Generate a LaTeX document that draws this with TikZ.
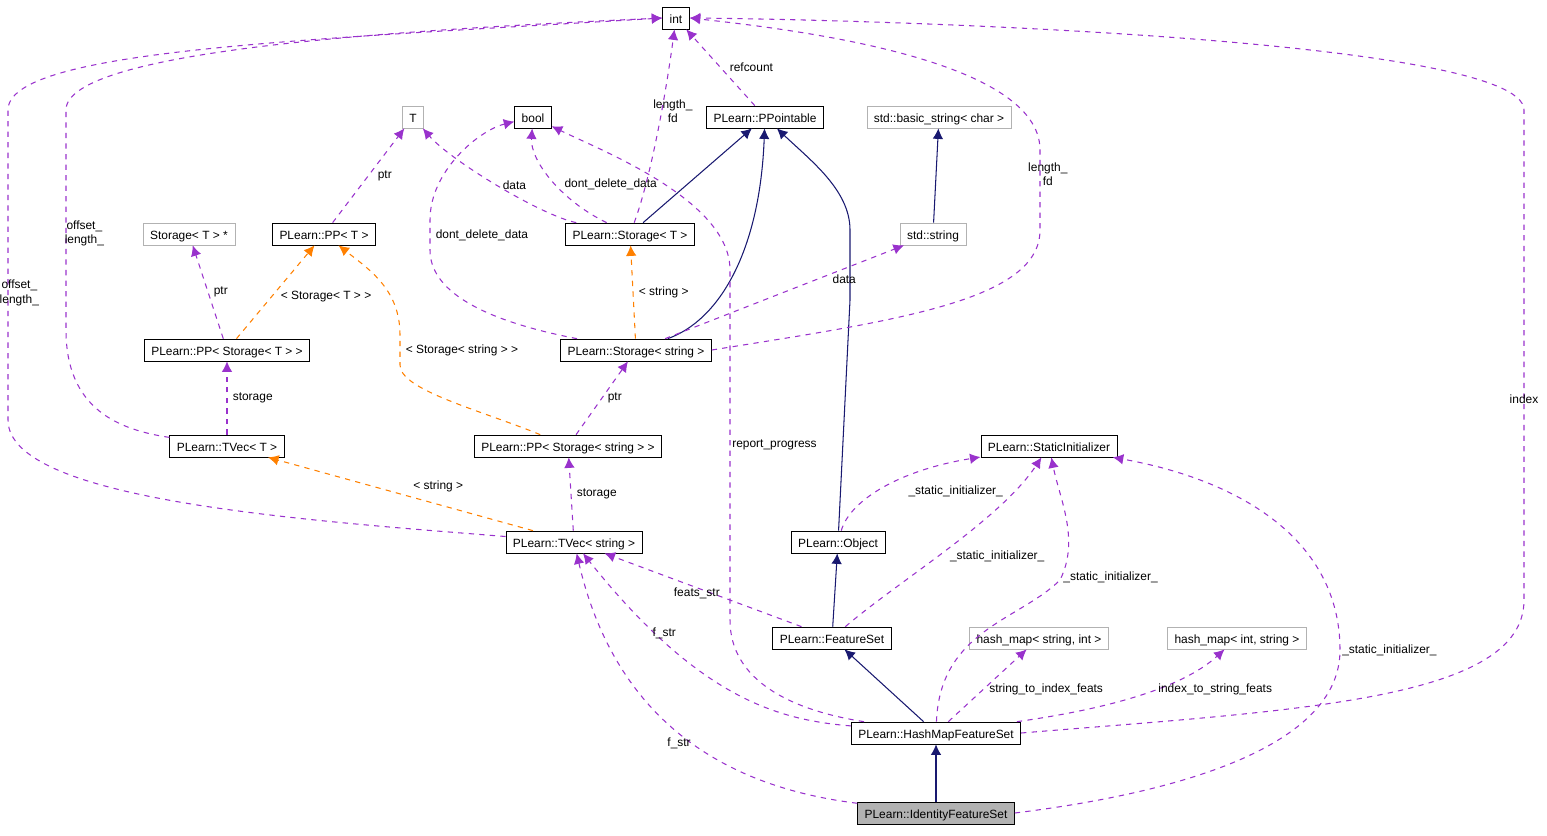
\documentclass[tikz,border=0pt]{standalone}
\usepackage{fontspec}
\setmainfont{Liberation Sans}
\usetikzlibrary{arrows.meta,positioning}

\tikzset{
  cls/.style={draw,fill=white,inner sep=0pt,minimum height=0.44cm,text height=1.6ex,text depth=.4ex,inner xsep=4pt,font=\fontsize{6.8}{8}\selectfont},
  ext/.style={cls,draw=black!30},
  inh/.style={-{Latex[length=6pt,width=6pt]},draw={rgb,255:red,25;green,25;blue,112},semithick},
  mem/.style={-{Latex[length=6pt,width=6pt]},draw={rgb,255:red,153;green,50;blue,204},dashed,semithick},
  tpl/.style={-{Latex[length=6pt,width=6pt]},draw=orange,dashed,semithick},
  lbl/.style={font=\fontsize{6.8}{8}\selectfont,align=center,inner sep=1pt}
}

\begin{document}
\begin{tikzpicture}[x=0.02cm,y=-0.02cm]
\useasboundingbox (0,0) rectangle (1547,835);

\node[cls] (int) at (676,18) {int};
\node[ext] (T) at (413,117) {T};
\node[cls] (bool) at (533,117) {bool};
\node[cls] (ppointable) at (765,117) {PLearn::PPointable};
\node[ext] (bstring) at (939,117) {std::basic\_string< char >};
\node[ext] (storTp) at (189,234) {Storage< T > *};
\node[cls] (ppT) at (324,234) {PLearn::PP< T >};
\node[cls] (storT) at (630,234) {PLearn::Storage< T >};
\node[ext] (string) at (933,234) {std::string};
\node[cls] (ppStorT) at (227,350) {PLearn::PP< Storage< T > >};
\node[cls] (storS) at (636,350) {PLearn::Storage< string >};
\node[cls] (tvecT) at (227,446) {PLearn::TVec< T >};
\node[cls] (ppStorS) at (568,446) {PLearn::PP< Storage< string > >};
\node[cls] (statinit) at (1049,446) {PLearn::StaticInitializer};
\node[cls] (tvecS) at (574,542) {PLearn::TVec< string >};
\node[cls] (object) at (838,542) {PLearn::Object};
\node[cls] (featset) at (832,638) {PLearn::FeatureSet};
\node[ext] (hmSI) at (1039,638) {hash\_map< string, int >};
\node[ext] (hmIS) at (1237,638) {hash\_map< int, string >};
\node[cls] (hmfs) at (936,733) {PLearn::HashMapFeatureSet};
\node[cls,fill=black!30] (idfs) at (936,813) {PLearn::IdentityFeatureSet};

% inheritance
\draw[inh] (storT) -- (ppointable);
\draw[inh] (storS) .. controls (720,320) and (760,250) .. (ppointable);
\draw[inh] (object) -- (850,300) -- (850,230) .. controls (850,190) and (810,160) .. (ppointable);
\draw[inh] (string) -- (bstring);
\draw[inh] (featset) -- (object);
\draw[inh] (hmfs) -- (featset);
\draw[inh] (idfs) -- (hmfs);

% templates
\draw[tpl] (ppStorT) -- node[lbl,right=4pt,pos=0.45]{< Storage< T > >} (ppT);
\draw[tpl] (storS) -- node[lbl,right=2pt]{< string >} (storT);
\draw[tpl] (ppStorS) .. controls (480,410) and (400,390) .. (400,365) -- node[lbl,right=2pt]{< Storage< string > >} (400,335) .. controls (400,290) and (370,270) .. (ppT);
\draw[tpl] (tvecS) -- node[lbl,above right=0pt and 6pt]{< string >} (tvecT);

% members
\draw[mem] (ppointable) -- node[lbl,right=4pt]{refcount} (int);
\draw[mem] (storT) .. controls (650,180) and (665,100) .. node[lbl,pos=0.62,right=-6pt]{length\_\\fd} (int);
\draw[mem] (storT) .. controls (540,215) and (450,160) .. node[lbl,pos=0.4,above=2pt]{data} (T);
\draw[mem] (storT) .. controls (560,200) and (530,160) .. node[lbl,pos=0.45,right=4pt]{dont\_delete\_data} (bool);
\draw[mem] (ppT) -- node[lbl,pos=0.5,right=4pt]{ptr} (T);
\draw[mem] (ppStorT) -- node[lbl,right=2pt]{ptr} (storTp);
\draw[mem] (storS) .. controls (480,320) and (430,290) .. (430,250) -- node[lbl,right=2pt]{dont\_delete\_data} (430,220) .. controls (430,170) and (480,130) .. (bool);
\draw[mem] (storS) -- node[lbl,pos=0.75,below=2pt]{data} (string);
\draw[mem] (storS.east) .. controls (900,320) and (1040,300) .. (1040,230) -- node[lbl,pos=0.7,right=-8pt]{length\_\\fd} (1040,150) .. controls (1040,60) and (800,30) .. (int.east);
\draw[mem] (tvecT) .. controls (120,430) and (66,410) .. (66,330) -- node[lbl,pos=0.44,right=-2pt]{offset\_\\length\_} (66,110) .. controls (66,50) and (400,30) .. (int.west);
\draw[mem] (tvecT) -- node[lbl,right=2pt]{storage} (ppStorT);
\draw[mem] (ppStorS) -- node[lbl,right=2pt]{ptr} (storS);
\draw[mem] (tvecS) .. controls (300,520) and (8,500) .. (8,420) -- node[lbl,pos=0.41,right=-6pt]{offset\_\\length\_} (8,110) .. controls (8,50) and (300,40) .. (int.west);
\draw[mem] (tvecS) -- node[lbl,right=2pt]{storage} (ppStorS);
\draw[mem] (object) .. controls (850,500) and (900,470) .. node[lbl,pos=0.6,below right=2pt and 4pt]{\_static\_initializer\_} (statinit);
\draw[mem] (featset) -- node[lbl,pos=0.35,above left=0pt and 6pt]{feats\_str} (tvecS);
\draw[mem] (featset) .. controls (900,580) and (1000,520) .. node[lbl,pos=0.45,right=6pt]{\_static\_initializer\_} (statinit);
\draw[mem] (hmfs) .. controls (780,720) and (700,700) .. node[lbl,pos=0.75,above=0pt]{f\_str} (tvecS);
\draw[mem] (hmfs) .. controls (790,710) and (730,680) .. (730,620) -- node[lbl,pos=0.5,right=0pt]{report\_progress} (730,270) .. controls (730,200) and (600,150) .. (bool);
\draw[mem] (hmfs) .. controls (940,630) and (1020,620) .. (1060,580) .. controls (1080,540) and (1060,500) .. node[lbl,pos=0.02,right=0pt]{\_static\_initializer\_} (statinit);
\draw[mem] (hmfs) -- node[lbl,pos=0.45,right=2pt]{string\_to\_index\_feats} (hmSI);
\draw[mem] (hmfs) .. controls (1100,710) and (1180,690) .. node[lbl,pos=0.6,right=0pt]{index\_to\_string\_feats} (hmIS);
\draw[mem] (hmfs.east) .. controls (1300,710) and (1524,700) .. (1524,600) -- node[lbl,pos=0.41]{index} (1524,110) .. controls (1524,40) and (900,20) .. (int.east);
\draw[mem] (idfs) .. controls (750,790) and (620,740) .. node[lbl,pos=0.5,left=0pt]{f\_str} (tvecS);
\draw[mem] (idfs.east) .. controls (1200,790) and (1340,740) .. (1340,650) .. controls (1340,540) and (1240,480) .. node[lbl,pos=0.0,right=0pt]{\_static\_initializer\_} (statinit);
\end{tikzpicture}
\end{document}
